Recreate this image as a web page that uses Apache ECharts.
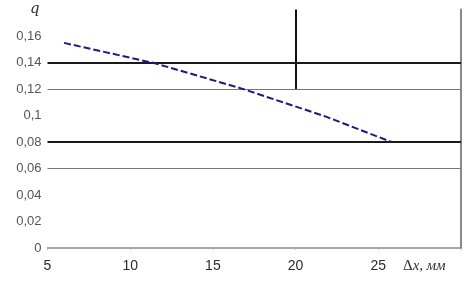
<!DOCTYPE html>
<html>
<head>
<meta charset="utf-8">
<script src="https://cdn.jsdelivr.net/npm/echarts@6/dist/echarts.min.js"></script>
<style>html,body{margin:0;padding:0;background:#fff}#c{width:473px;height:284px}</style>
</head>
<body>
<div id="c"></div>
<script>
// Data
const xValues = [6, 11.5, 16.7, 21.8, 25.8];
const qValues = [0.1548, 0.1394, 0.1205, 0.0993, 0.0800];
const xTicks = [5, 10, 15, 20, 25];
const thickLevels = [0.14, 0.08];
const thinLevels = [0.12, 0.06];
const verticalX = 20;
const verticalFrom = 0.12;
const verticalTo = 0.18;
const yName = 'q';
const xName = 'Δx, мм';

const seriesData = xValues.map((x, i) => [x, qValues[i]]);
const thin = thinLevels.map(v => Math.round(v * 100));

const chart = echarts.init(document.getElementById('c'), null, {renderer: 'canvas'});
chart.setOption({
  animation: false,
  backgroundColor: '#fff',
  grid: {left: 47.5, right: 12, top: 9.5, bottom: 36},
  xAxis: {
    type: 'value', min: 5, max: 30, interval: 5,
    axisLine: {show: true, lineStyle: {color: '#8a8a8a', width: 1.5}},
    axisTick: {show: true, length: 2, lineStyle: {color: '#bbb'}},
    splitLine: {show: false},
    axisLabel: {
      margin: 11, fontSize: 14, color: '#2a2a2a', fontFamily: 'Liberation Sans, Arial',
      formatter: v => (xTicks.indexOf(v) >= 0 ? String(v) : '')
    }
  },
  yAxis: [{
    type: 'value', min: 0, max: 0.18, interval: 0.02,
    axisLine: {show: false},
    axisTick: {show: false},
    splitLine: {
      show: true,
      lineStyle: {
        width: 1,
        color: Array.from({length: 10}, (_, i) => thin.indexOf(i * 2) >= 0 ? '#777' : 'rgba(0,0,0,0)')
      }
    },
    axisLabel: {
      margin: 6, fontSize: 13, color: '#555', fontFamily: 'Liberation Sans, Arial',
      formatter: v => {
        if (v > 0.17) return '';
        return String(Math.round(v * 100) / 100).replace('.', ',');
      }
    }
  }, {
    type: 'value', min: 0, max: 0.18, position: 'right',
    axisLine: {show: true, lineStyle: {color: '#888', width: 2}},
    axisTick: {show: false}, axisLabel: {show: false}, splitLine: {show: false}
  }],
  series: [{
    type: 'line',
    data: seriesData,
    showSymbol: false,
    lineStyle: {color: '#1c1c7a', width: 2, type: [7, 3]},
    z: 5,
    markLine: {
      silent: true,
      symbol: 'none',
      label: {show: false},
      animation: false,
      data: thickLevels.map(v => ({yAxis: v, lineStyle: {color: '#1a1a1a', width: 2, type: 'solid'}}))
        .concat([[
          {coord: [verticalX, verticalFrom], lineStyle: {color: '#111', width: 2, type: 'solid'}},
          {coord: [verticalX, verticalTo]}
        ]])
    }
  }],
  graphic: [
    {type: 'text', left: 30, top: 2, style: {text: yName, font: 'italic 15px "DejaVu Serif", serif', fill: '#333'}},
    {type: 'text', left: 403, top: 259, style: {
      text: '{d|Δ}{x|x,} {m|мм}',
      rich: {
        d: {font: '15px "Liberation Serif", serif', fill: '#333'},
        x: {font: 'italic 15px "Liberation Serif", serif', fill: '#333'},
        m: {font: 'italic 15px "Liberation Serif", serif', fill: '#333'}
      }
    }}
  ]
});
</script>
</body>
</html>
